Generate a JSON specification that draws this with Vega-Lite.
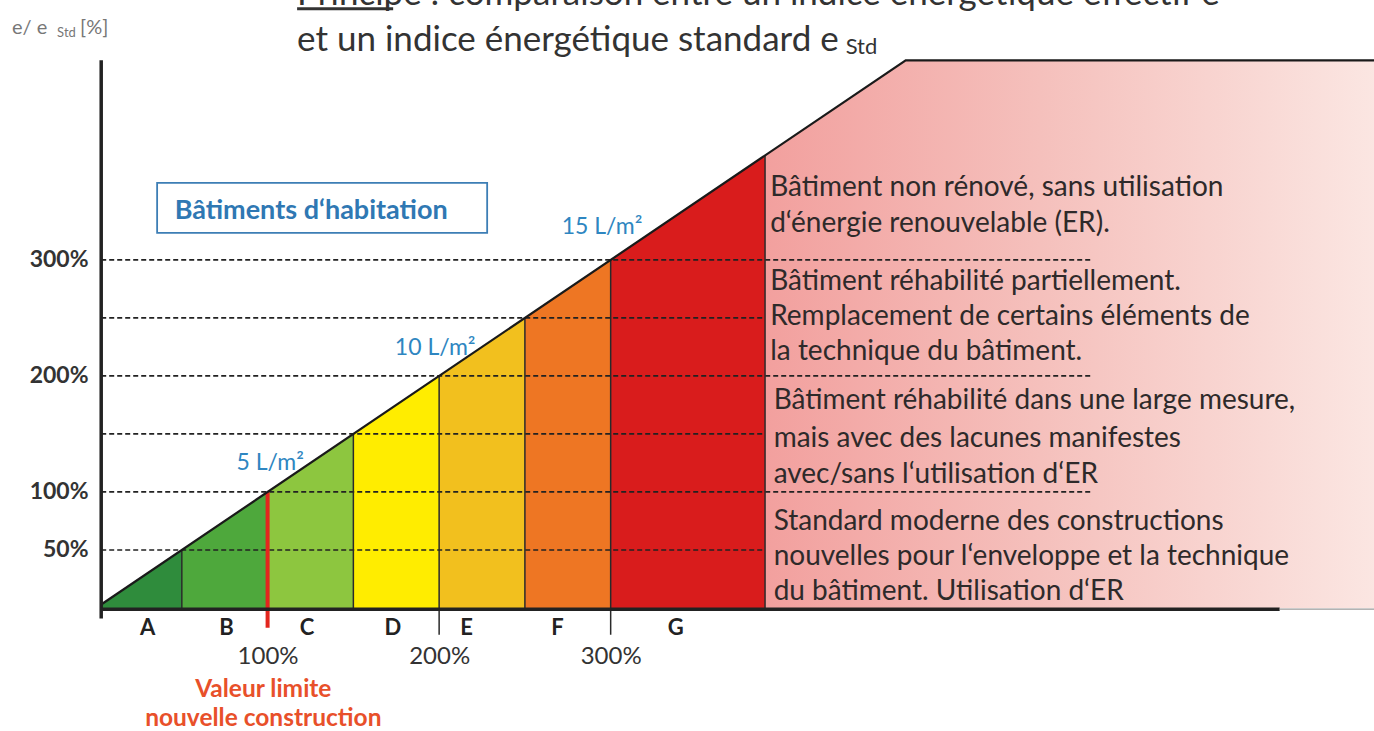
{
  "$schema": "https://vega.github.io/schema/vega-lite/v6.json",
  "width": 1374,
  "height": 731,
  "autosize": {"type": "none"},
  "padding": 0,
  "background": "white",
  "config": {"view": {"stroke": null}, "font": "Lato", "axis": {"grid": false}},
  "datasets": {
    "pink": [{"x": 390, "y": 390}, {"x": 472, "y": 472}, {"x": 746, "y": 472}],
    "classes": [
      {"cls": "A", "x": 3, "y": 3}, {"cls": "A", "x": 50, "y": 50},
      {"cls": "B", "x": 50, "y": 50}, {"cls": "B", "x": 100, "y": 100},
      {"cls": "C", "x": 100, "y": 100}, {"cls": "C", "x": 150, "y": 150},
      {"cls": "D", "x": 150, "y": 150}, {"cls": "D", "x": 200, "y": 200},
      {"cls": "E", "x": 200, "y": 200}, {"cls": "E", "x": 250, "y": 250},
      {"cls": "F", "x": 250, "y": 250}, {"cls": "F", "x": 300, "y": 300},
      {"cls": "G", "x": 300, "y": 300}, {"cls": "G", "x": 390, "y": 390}
    ],
    "hdash": [
      {"x": 3, "x2": 390, "y": 50, "y2": 50},
      {"x": 3, "x2": 580, "y": 100, "y2": 100},
      {"x": 3, "x2": 390, "y": 150, "y2": 150},
      {"x": 3, "x2": 580, "y": 200, "y2": 200},
      {"x": 3, "x2": 390, "y": 250, "y2": 250},
      {"x": 3, "x2": 580, "y": 300, "y2": 300}
    ],
    "vlines": [
      {"x": 50, "x2": 50, "y": 0, "y2": 50},
      {"x": 150, "x2": 150, "y": 0, "y2": 150},
      {"x": 200, "x2": 200, "y": -23, "y2": 200},
      {"x": 250, "x2": 250, "y": 0, "y2": 250},
      {"x": 300, "x2": 300, "y": -23, "y2": 300},
      {"x": 390, "x2": 390, "y": 0, "y2": 390}
    ],
    "redline": [{"x": 100, "x2": 100, "y": -17, "y2": 100}],
    "diag": [{"x": 3, "y": 3}, {"x": 472, "y": 472}, {"x": 746, "y": 472}],
    "axes": [
      {"x": 3, "x2": 3, "y": -9, "y2": 472},
      {"x": 3, "x2": 690, "y": -1, "y2": -1}
    ],
    "axisext": [{"x": 690, "x2": 746, "y": -1, "y2": -1}],
    "box": [{"x": 35.6, "x2": 228, "y": 323.3, "y2": 366.4}],
    "boxtext": [{"x": 125.4, "y": 342.2, "t": "Bâtiments d‘habitation"}],
    "letters": [
      {"x": 30, "y": -17.5, "t": "A"}, {"x": 76, "y": -17.5, "t": "B"},
      {"x": 123, "y": -17.5, "t": "C"}, {"x": 173, "y": -17.5, "t": "D"},
      {"x": 216, "y": -17.5, "t": "E"}, {"x": 269, "y": -17.5, "t": "F"},
      {"x": 338, "y": -17.5, "t": "G"}
    ],
    "lm": [
      {"x": 101.5, "y": 125, "t": "5 L/m²"},
      {"x": 197.7, "y": 224, "t": "10 L/m²"},
      {"x": 295, "y": 328.4, "t": "15 L/m²"}
    ],
    "desc": [
      {"x": 393, "y": 362, "t": "Bâtiment non rénové, sans utilisation"},
      {"x": 393, "y": 331, "t": "d‘énergie renouvelable (ER)."},
      {"x": 393, "y": 281, "t": "Bâtiment réhabilité partiellement."},
      {"x": 393, "y": 251, "t": "Remplacement de certains éléments de"},
      {"x": 393, "y": 220.7, "t": "la technique du bâtiment."},
      {"x": 395, "y": 178.4, "t": "Bâtiment réhabilité dans une large mesure,"},
      {"x": 395, "y": 145.7, "t": "mais avec des lacunes manifestes"},
      {"x": 395, "y": 114.7, "t": "avec/sans l‘utilisation d‘ER"},
      {"x": 395, "y": 74.1, "t": "Standard moderne des constructions"},
      {"x": 395, "y": 44, "t": "nouvelles pour l‘enveloppe et la technique"},
      {"x": 395, "y": 13.8, "t": "du bâtiment. Utilisation d‘ER"}
    ],
    "redlabel": [
      {"x": 97.5, "y": -70.7, "t": "Valeur limite"},
      {"x": 97.5, "y": -95.7, "t": "nouvelle construction"}
    ],
    "title": [{"x": 117.2, "y": 489.7, "t": "et un indice énergétique standard e"}],
    "titlesub": [{"x": 437, "y": 483.5, "t": "Std"}],
    "topline": [{"x": 117.2, "y": 520, "t": "Principe : comparaison entre un indice énergétique effectif e"}],
    "underline": [{"x": 117.2, "x2": 173.2, "y": 516.4, "y2": 516.4}],
    "ytitle": [{"x": -49, "y": 500, "t": "e/ e"}, {"x": -9.3, "y": 500, "t": "[%]"}],
    "ytitlesub": [{"x": -22.7, "y": 495.5, "t": "Std"}]
  },
  "encoding": {
    "x": {
      "field": "x", "type": "quantitative",
      "scale": {"domain": [-56, 745], "nice": false, "zero": false},
      "axis": {"orient": "bottom", "offset": -123, "values": [100, 200, 300], "domain": false, "ticks": false, "grid": false, "labelPadding": 36, "labelFontSize": 24, "labelColor": "#333333", "labelFont": "Lato", "labelExpr": "datum.value + '%'", "title": null}
    },
    "y": {
      "field": "y", "type": "quantitative", "stack": null,
      "scale": {"domain": [-106, 524], "nice": false, "zero": false},
      "axis": {"orient": "left", "offset": -96, "values": [50, 100, 200, 300], "domain": false, "ticks": false, "grid": false, "labelPadding": 8, "labelFontSize": 23, "labelFontWeight": "bold", "labelColor": "#333333", "labelFont": "Lato", "labelExpr": "datum.value + '%'", "title": null}
    }
  },
  "layer": [
    {
      "data": {"name": "pink"},
      "mark": {"type": "area", "fill": {"gradient": "linear", "x1": 0, "y1": 0, "x2": 1, "y2": 0, "stops": [{"offset": 0, "color": "#f2a09e"}, {"offset": 0.45, "color": "#f5c0bc"}, {"offset": 1, "color": "#fbe6e2"}]}, "stroke": null},
      "encoding": {"y2": {"datum": 0}}
    },
    {
      "data": {"name": "classes"},
      "mark": {"type": "area"},
      "encoding": {
        "y2": {"datum": 0},
        "color": {"field": "cls", "type": "nominal", "legend": null, "scale": {"domain": ["A", "B", "C", "D", "E", "F", "G"], "range": ["#2f8c3c", "#4ea83c", "#8dc63f", "#ffed00", "#f2c01e", "#ee7623", "#d91c1c"]}}
      }
    },
    {
      "data": {"name": "hdash"},
      "mark": {"type": "rule", "color": "#222222", "strokeWidth": 1.7, "strokeDash": [5, 3]},
      "encoding": {"x2": {"field": "x2"}, "y2": {"field": "y2"}}
    },
    {
      "data": {"name": "vlines"},
      "mark": {"type": "rule", "color": "#2a2a2a", "strokeWidth": 1.5},
      "encoding": {"x2": {"field": "x2"}, "y2": {"field": "y2"}}
    },
    {
      "data": {"name": "redline"},
      "mark": {"type": "rule", "color": "#e3261e", "strokeWidth": 4},
      "encoding": {"x2": {"field": "x2"}, "y2": {"field": "y2"}}
    },
    {
      "data": {"name": "diag"},
      "mark": {"type": "line", "color": "#1a1a1a", "strokeWidth": 2.2},
      "encoding": {}
    },
    {
      "data": {"name": "axes"},
      "mark": {"type": "rule", "color": "#222222", "strokeWidth": 3.5},
      "encoding": {"x2": {"field": "x2"}, "y2": {"field": "y2"}}
    },
    {
      "data": {"name": "axisext"},
      "mark": {"type": "rule", "color": "#9a9a9a", "strokeWidth": 1.2},
      "encoding": {"x2": {"field": "x2"}, "y2": {"field": "y2"}}
    },
    {
      "data": {"name": "box"},
      "mark": {"type": "rect", "fill": "white", "stroke": "#3d7eb5", "strokeWidth": 1.8},
      "encoding": {"x2": {"field": "x2"}, "y2": {"field": "y2"}}
    },
    {
      "data": {"name": "boxtext"},
      "mark": {"type": "text", "font": "Lato", "fontSize": 27, "fontWeight": "bold", "color": "#2f78b3", "align": "center", "baseline": "middle"},
      "encoding": {"text": {"field": "t"}}
    },
    {
      "data": {"name": "letters"},
      "mark": {"type": "text", "font": "Lato", "fontSize": 22, "fontWeight": "bold", "color": "#222222", "align": "center", "baseline": "middle"},
      "encoding": {"text": {"field": "t"}}
    },
    {
      "data": {"name": "lm"},
      "mark": {"type": "text", "font": "Lato", "fontSize": 23, "color": "#2e86c1", "align": "center", "baseline": "middle"},
      "encoding": {"text": {"field": "t"}}
    },
    {
      "data": {"name": "desc"},
      "mark": {"type": "text", "font": "Lato", "fontSize": 28, "color": "#2e2a2a", "align": "left", "baseline": "middle"},
      "encoding": {"text": {"field": "t"}}
    },
    {
      "data": {"name": "redlabel"},
      "mark": {"type": "text", "font": "Lato", "fontSize": 24.5, "fontWeight": "bold", "color": "#e8502a", "align": "center", "baseline": "middle"},
      "encoding": {"text": {"field": "t"}}
    },
    {
      "data": {"name": "title"},
      "mark": {"type": "text", "font": "Lato", "fontSize": 35, "color": "#333333", "align": "left", "baseline": "middle"},
      "encoding": {"text": {"field": "t"}}
    },
    {
      "data": {"name": "titlesub"},
      "mark": {"type": "text", "font": "Lato", "fontSize": 22, "color": "#333333", "align": "left", "baseline": "middle"},
      "encoding": {"text": {"field": "t"}}
    },
    {
      "data": {"name": "topline"},
      "mark": {"type": "text", "font": "Lato", "fontSize": 35, "color": "#333333", "align": "left", "baseline": "alphabetic"},
      "encoding": {"text": {"field": "t"}}
    },
    {
      "data": {"name": "underline"},
      "mark": {"type": "rule", "color": "#333333", "strokeWidth": 3},
      "encoding": {"x2": {"field": "x2"}, "y2": {"field": "y2"}}
    },
    {
      "data": {"name": "ytitle"},
      "mark": {"type": "text", "font": "Lato", "fontSize": 20, "color": "#777777", "align": "left", "baseline": "middle"},
      "encoding": {"text": {"field": "t"}}
    },
    {
      "data": {"name": "ytitlesub"},
      "mark": {"type": "text", "font": "Lato", "fontSize": 13, "color": "#777777", "align": "left", "baseline": "middle"},
      "encoding": {"text": {"field": "t"}}
    }
  ]
}
